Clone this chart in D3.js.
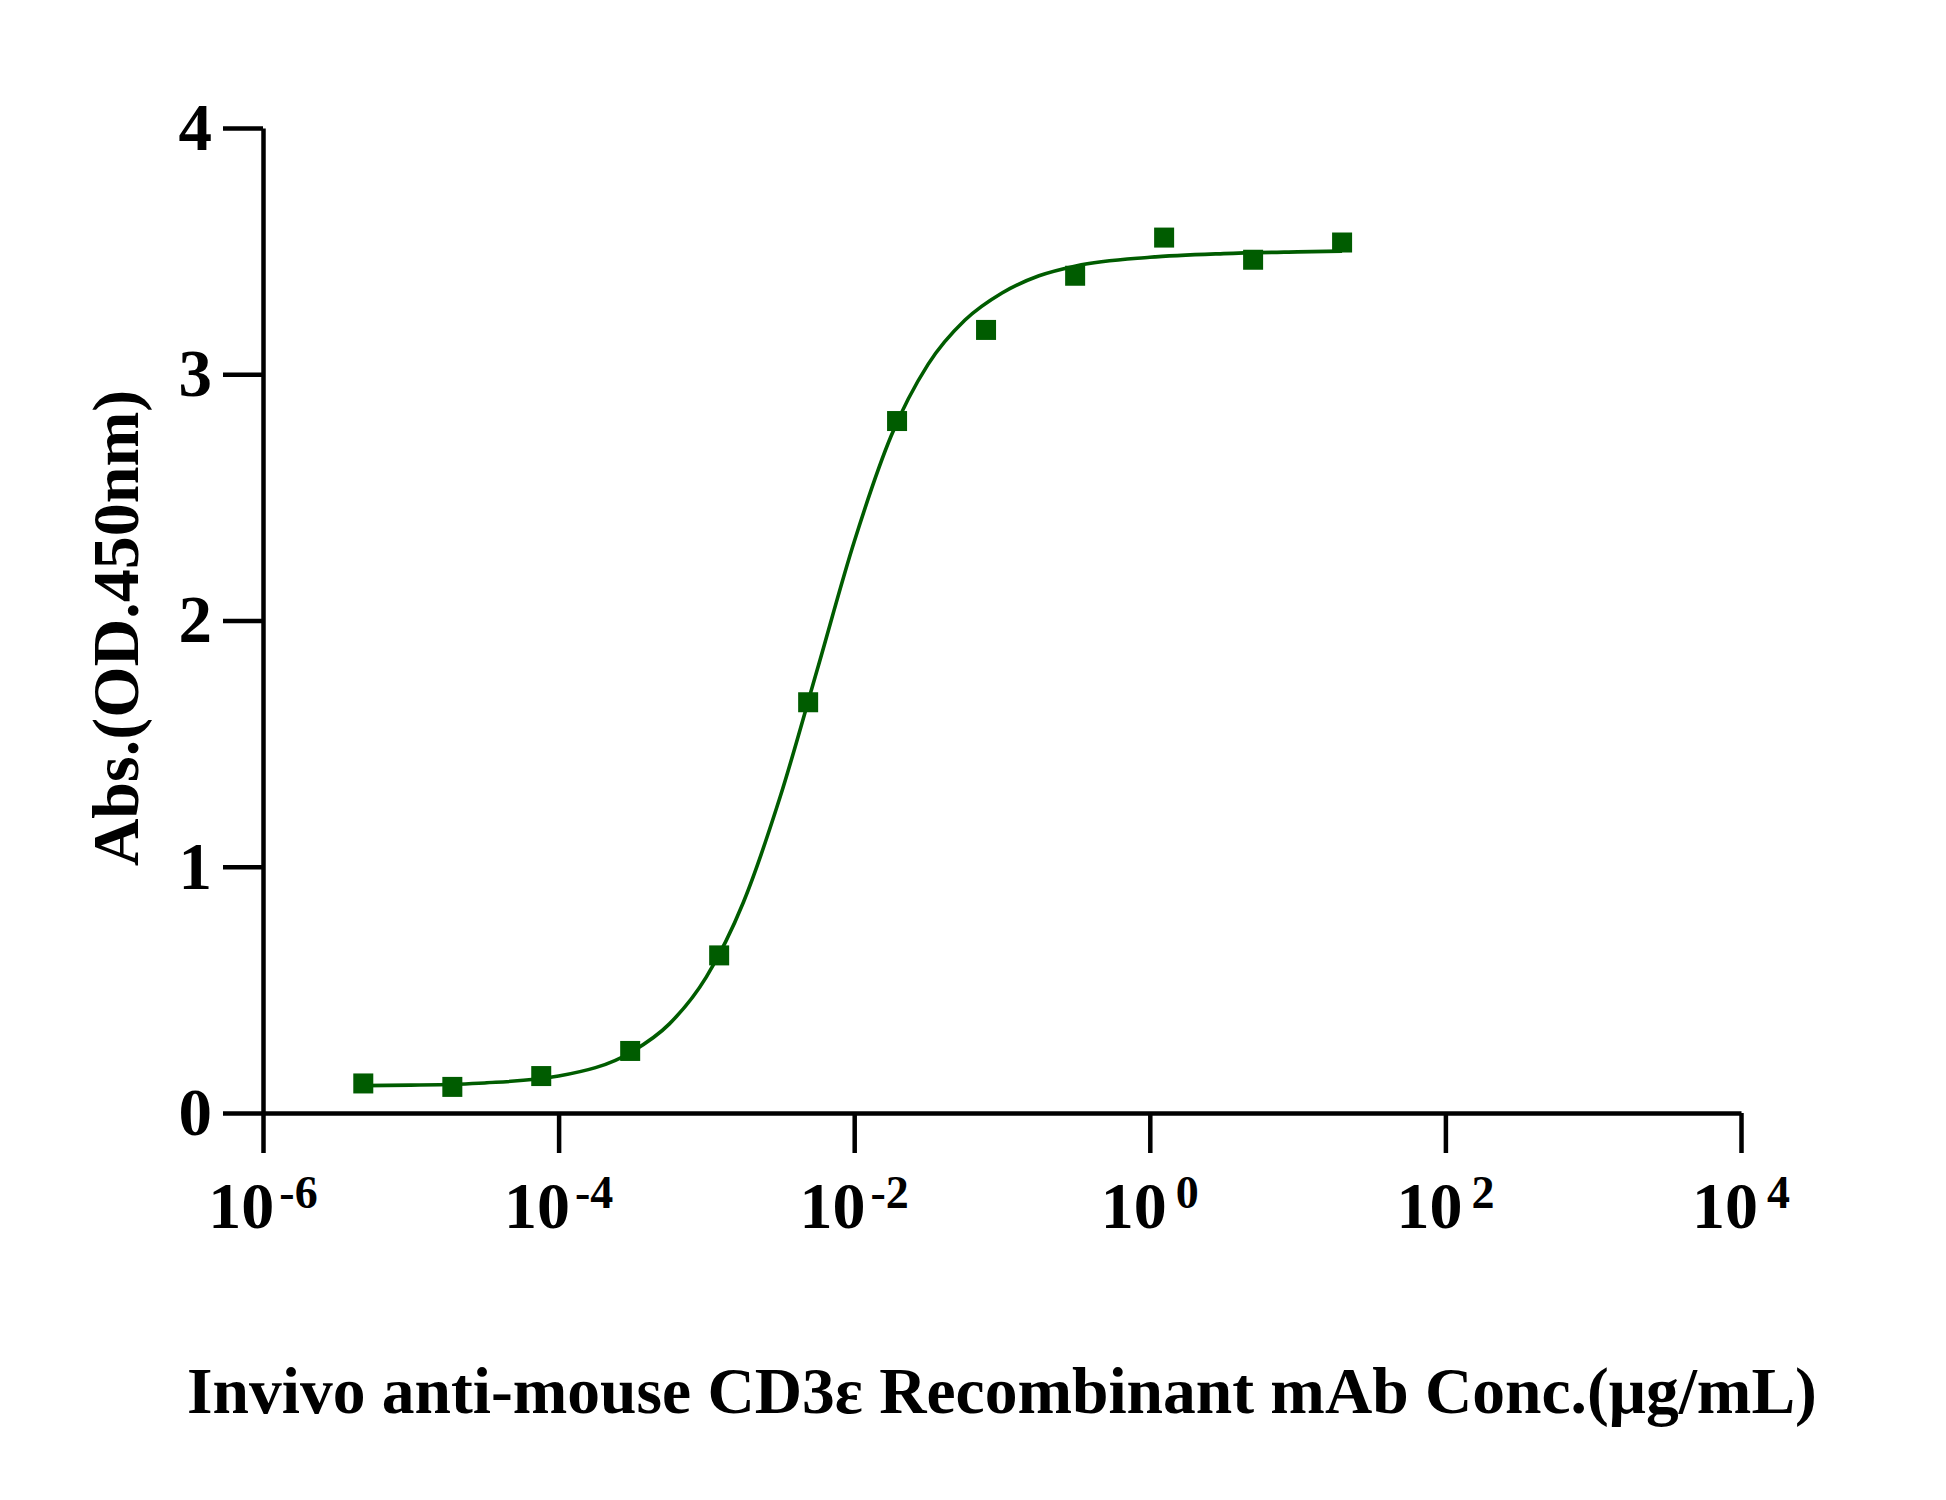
<!DOCTYPE html>
<html lang="en">

<head>
    <meta charset="utf-8">
    <title>CD3e ELISA</title>
    <style>
        * {
            margin: 0;
            padding: 0;
            box-sizing: border-box;
        }

        body {
            background: #fff;
            font-family: 'Liberation Serif', 'Times New Roman', serif;
        }
    </style>
</head>

<body>
    <div id="chart"></div>
    <script src="https://d3js.org/d3.v7.min.js"></script>

    <script>
        // measured points (ug/mL, OD450)
        var conc = [4.77e-6, 1.91e-5, 7.63e-5, 3.05e-4, 1.22e-3, 4.88e-3, 0.0195, 0.078, 0.3125, 1.25, 5, 20];
        var absorb = [0.120, 0.106, 0.150, 0.252, 0.640, 1.668, 2.810, 3.180, 3.400, 3.555, 3.465, 3.535];

        // fitted curve
        var fitConc = [4.77e-6, 1e-5, 3.16e-5, 1e-4, 3.16e-4, 5.62e-4, 1e-3, 1.78e-3, 3.16e-3, 5.62e-3,
            0.01, 0.0178, 0.0316, 0.0562, 0.1, 0.178, 0.316, 1, 3.16, 10, 20];
        var fitAbs = [0.111, 0.113, 0.122, 0.150, 0.250, 0.362, 0.553, 0.856, 1.285, 1.80,
            2.32, 2.75, 3.04, 3.22, 3.33, 3.40, 3.44, 3.475, 3.49, 3.497, 3.50];

        var xExp = [-6, -4, -2, 0, 2, 4];
        var yTicks = [0, 1, 2, 3, 4];

        var xTitle = "Invivo anti-mouse CD3\u03b5 Recombinant mAb Conc.(\u03bcg/mL)";
        var yTitle = "Abs.(OD.450nm)";

        var width = 1946,
            height = 1500;

        var green = "#005c00";

        var x = d3.scaleLog().domain([1e-6, 1e4]).range([263, 1741]);
        var y = d3.scaleLinear().domain([0, 4]).range([1113, 128]);

        var svg = d3.select("#chart")
            .append("svg")
            .attr("width", width)
            .attr("height", height)
            .style("font-family", "'Liberation Serif', 'Times New Roman', serif")
            .style("font-weight", "bold");

        // y axis
        var yAxis = svg.append("g")
            .attr("transform", "translate(263,0)")
            .call(d3.axisLeft(y).tickValues(yTicks).tickFormat(d3.format("d"))
                .tickSize(40).tickSizeOuter(0).tickPadding(11));

        yAxis.selectAll("text")
            .style("font-size", "67px")
            .style("font-family", "'Liberation Serif', serif")
            .attr("fill", "#000");

        // x axis, labels done by hand for superscripts
        var xAxis = svg.append("g")
            .attr("transform", "translate(0,1113)")
            .call(d3.axisBottom(x).tickValues(xExp.map(function (e) { return Math.pow(10, e); }))
                .tickSize(40).tickSizeOuter(0).tickFormat(""));

        svg.selectAll(".domain, .tick line")
            .attr("stroke", "#000")
            .attr("stroke-width", 4.5);

        var lab = svg.append("g")
            .selectAll("text")
            .data(xExp)
            .enter()
            .append("text")
            .attr("x", function (d) { return x(Math.pow(10, d)); })
            .attr("y", 1228)
            .attr("text-anchor", "middle")
            .style("font-size", "66px");

        lab.append("tspan").text("10");
        lab.append("tspan")
            .attr("dx", d => d < 0 ? 5 : 9)
            .attr("dy", -20)
            .style("font-size", "46px")
            .text(d => d < 0 ? "-" + (-d) : d);

        // fitted line
        var line = d3.line()
            .x(function (d, i) { return x(fitConc[i]); })
            .y(function (d) { return y(d); })
            .curve(d3.curveMonotoneX);

        svg.append("path")
            .attr("d", line(fitAbs))
            .attr("fill", "none")
            .attr("stroke", green)
            .attr("stroke-width", 3.6);

        // points
        var s = 20;
        svg.append("g")
            .selectAll("rect")
            .data(absorb)
            .enter()
            .append("rect")
            .attr("x", function (d, i) { return x(conc[i]) - s / 2; })
            .attr("y", function (d) { return y(d) - s / 2; })
            .attr("width", s)
            .attr("height", s)
            .attr("fill", green);

        // titles
        svg.append("text")
            .attr("x", 1002)
            .attr("y", 1413)
            .attr("text-anchor", "middle")
            .style("font-size", "65.5px")
            .text(xTitle);

        svg.append("text")
            .attr("transform", "translate(138,628) rotate(-90)")
            .attr("text-anchor", "middle")
            .style("font-size", "66px")
            .text(yTitle);
    </script>
</body>

</html>
